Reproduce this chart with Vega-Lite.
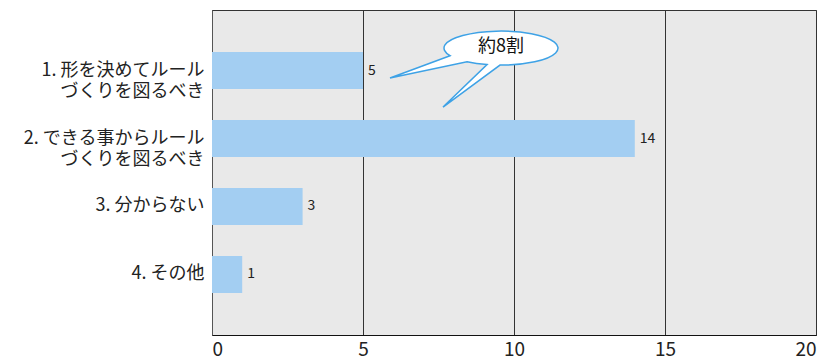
{
  "$schema": "https://vega.github.io/schema/vega-lite/v6.json",
  "autosize": "none",
  "width": 604,
  "height": 325,
  "padding": {"left": 212, "top": 10, "right": 22, "bottom": 27},
  "background": "white",
  "config": {
    "view": {"fill": "#e9e9e9", "stroke": "#333333", "strokeWidth": 1},
    "font": "Noto Sans CJK JP"
  },
  "datasets": {
    "bars": [
      {"label": "1. 形を決めてルール\nづくりを図るべき", "value": 5},
      {"label": "2. できる事からルール\nづくりを図るべき", "value": 14},
      {"label": "3. 分からない", "value": 3},
      {"label": "4. その他", "value": 1}
    ],
    "callout": [
      {"x": 9.57, "row": 0.67, "text": "約8割"}
    ]
  },
  "layer": [
    {
      "data": {"name": "bars"},
      "encoding": {
        "y": {
          "field": "label", "type": "nominal", "sort": null,
          "scale": {"paddingInner": 0.456, "paddingOuter": 0.618},
          "axis": {
            "title": null, "ticks": false, "domainColor": "#555555",
            "labelExpr": "split(datum.value, '\\n')",
            "labelFontSize": 18, "labelLineHeight": 21, "labelColor": "#222222",
            "labelPadding": 8, "labelFont": "Noto Sans CJK JP", "labelLimit": 300
          }
        },
        "x": {
          "field": "value", "type": "quantitative",
          "scale": {"domain": [0, 20], "nice": false},
          "axis": {
            "title": null, "values": [0, 5, 10, 15, 20], "ticks": false,
            "grid": true, "gridColor": "#333333", "gridOpacity": 1,
            "domainColor": "#111111", "labelFontSize": 19, "labelColor": "#222222",
            "labelPadding": 5, "labelFont": "Noto Sans CJK JP"
          }
        }
      },
      "layer": [
        {"mark": {"type": "bar", "color": "#a3cef2"}},
        {
          "mark": {"type": "text", "align": "left", "dx": 5, "fontSize": 14, "color": "#222222", "font": "Noto Sans CJK JP"},
          "encoding": {"text": {"field": "value", "type": "quantitative"}}
        }
      ]
    },
    {
      "data": {"name": "callout"},
      "encoding": {
        "x": {"field": "x", "type": "quantitative"},
        "y": {"field": "row", "type": "quantitative", "scale": {"domain": [0.11, 4.89], "reverse": true, "nice": false, "zero": false}, "axis": null}
      },
      "layer": [
        {
          "mark": {
            "type": "point", "filled": true, "fill": "white", "fillOpacity": 1,
            "stroke": "#3ea2e6", "strokeWidth": 1.5, "strokeOpacity": 1, "opacity": 1,
            "size": 40000,
            "shape": "M-0.51,0.076 L-1.11,0.30 L-0.34,0.136 A0.57,0.17 0 0,0 -0.14,0.165 L-0.58,0.59 L-0.01,0.17 A0.57,0.17 0 1,0 -0.51,0.076 Z"
          }
        },
        {
          "mark": {"type": "text", "fontSize": 18, "color": "#111111", "font": "Noto Sans CJK JP", "dy": -1},
          "encoding": {"text": {"field": "text"}}
        }
      ]
    }
  ],
  "resolve": {"scale": {"y": "independent"}}
}
